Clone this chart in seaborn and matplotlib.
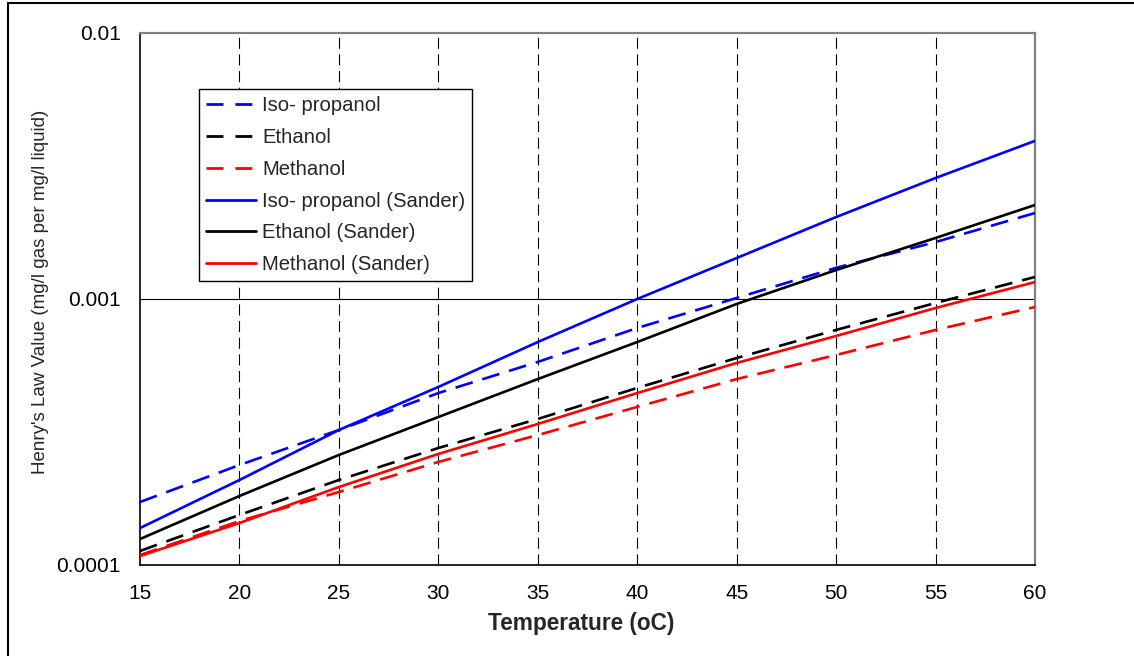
import numpy as np
import pandas as pd
import matplotlib
matplotlib.use("Agg")
import matplotlib.pyplot as plt
from matplotlib.lines import Line2D
from matplotlib.ticker import FixedLocator, NullFormatter, FixedFormatter, MultipleLocator
import seaborn as sns

temperature = [15, 20, 25, 30, 35, 40, 45, 50, 55, 60]

isopropanol = [1.725e-4, 2.376e-4, 3.218e-4, 4.43e-4, 5.80e-4, 7.78e-4, 1.009e-3, 1.31e-3, 1.637e-3, 2.105e-3]
ethanol = [1.129e-4, 1.542e-4, 2.087e-4, 2.753e-4, 3.54e-4, 4.63e-4, 6.00e-4, 7.65e-4, 9.66e-4, 1.21e-3]
methanol = [1.090e-4, 1.463e-4, 1.881e-4, 2.44e-4, 3.08e-4, 3.93e-4, 5.00e-4, 6.16e-4, 7.65e-4, 9.33e-4]
isopropanol_sander = [1.377e-4, 2.087e-4, 3.218e-4, 4.67e-4, 6.89e-4, 1.0e-3, 1.426e-3, 2.033e-3, 2.85e-3, 3.93e-3]
ethanol_sander = [1.252e-4, 1.817e-4, 2.592e-4, 3.60e-4, 5.00e-4, 6.89e-4, 9.58e-4, 1.285e-3, 1.696e-3, 2.256e-3]
methanol_sander = [1.081e-4, 1.438e-4, 1.964e-4, 2.615e-4, 3.39e-4, 4.43e-4, 5.75e-4, 7.26e-4, 9.25e-4, 1.158e-3]

series_names = ["Iso- propanol", "Ethanol", "Methanol",
                "Iso- propanol (Sander)", "Ethanol (Sander)", "Methanol (Sander)"]
series_values = [isopropanol, ethanol, methanol,
                 isopropanol_sander, ethanol_sander, methanol_sander]
series_colors = ["#0000FF", "#000000", "#FF0000", "#0000FF", "#000000", "#FF0000"]
series_dashed = [True, True, True, False, False, False]

x_ticks = [15, 20, 25, 30, 35, 40, 45, 50, 55, 60]
y_ticks = [0.0001, 0.001, 0.01]
y_tick_labels = ["0.0001", "0.001", "0.01"]

sns.set_style("white")
plt.rcParams["font.family"] = ["Liberation Sans", "DejaVu Sans"]

rows = []
for name, vals in zip(series_names, series_values):
    for t, v in zip(temperature, vals):
        rows.append({"Temperature": t, "Value": v, "Series": name})
df = pd.DataFrame(rows)

lw = 1.9
dash_pat = (6.8, 3.8)
palette = {n: c for n, c in zip(series_names, series_colors)}
dashes = {n: (dash_pat if d else "") for n, d in zip(series_names, series_dashed)}

fig = plt.figure(figsize=(11.34, 6.56), dpi=100)
ax = fig.add_axes([140 / 1134, 1 - 565 / 656, 895 / 1134, 532 / 656])

# grid lines first
for xv in x_ticks[1:-1]:
    ax.axvline(xv, color="black", lw=0.8, linestyle=(0, (10, 5)), zorder=1)
ax.axhline(0.001, color="black", lw=0.8, zorder=1)

sns.lineplot(data=df, x="Temperature", y="Value", hue="Series", style="Series",
             palette=palette, dashes=dashes, hue_order=series_names,
             style_order=series_names, linewidth=lw, ax=ax, legend=False,
             zorder=3)

ax.set_yscale("log")
ax.set_xlim(15, 60)
ax.set_ylim(1e-4, 1e-2)

ax.xaxis.set_major_locator(FixedLocator(x_ticks))
ax.xaxis.set_minor_locator(MultipleLocator(1))
ax.yaxis.set_major_locator(FixedLocator(y_ticks))
ax.yaxis.set_major_formatter(FixedFormatter(y_tick_labels))
minor_y = [m * 10.0 ** e for e in (-4, -3) for m in range(2, 10)]
ax.yaxis.set_minor_locator(FixedLocator(minor_y))
ax.yaxis.set_minor_formatter(NullFormatter())

ax.tick_params(axis="both", which="both", direction="in", colors="black")
ax.tick_params(axis="x", which="major", length=6, width=0.8, pad=14, labelsize=15)
ax.tick_params(axis="x", which="minor", length=5, width=0.8)
ax.tick_params(axis="y", which="major", length=6, width=0.8, pad=14, labelsize=15)
ax.tick_params(axis="y", which="minor", length=6, width=0.8)
ax.tick_params(top=False, right=False, which="both")

for side in ["left", "bottom"]:
    ax.spines[side].set_color("black")
    ax.spines[side].set_linewidth(1.2)
for side in ["top", "right"]:
    ax.spines[side].set_color("#808080")
    ax.spines[side].set_linewidth(1.6)

ax.set_xlabel("Temperature (oC)", fontsize=16.3, fontweight="bold")
ax.xaxis.set_label_coords((581 - 140) / 895, (565 - 612) / 532)
ax.set_ylabel("Henry's Law Value (mg/l gas per mg/l liquid)", fontsize=13.5)
ax.yaxis.set_label_coords((49 - 140) / 895, (565 - 292) / 532)

handles = [Line2D([0], [0], color=c, lw=2.0,
                  linestyle=(0, (6.1, 4.3)) if d else "-")
           for c, d in zip(series_colors, series_dashed)]
leg = ax.legend(handles, series_names, loc="upper left",
                bbox_to_anchor=(59 / 895, (565 - 89) / 532),
                frameon=True, fancybox=False, shadow=False, fontsize=14.6,
                handlelength=2.45, handletextpad=0.3, labelspacing=0.63,
                borderpad=0.36, borderaxespad=0.0)
leg.get_frame().set_edgecolor("black")
leg.get_frame().set_linewidth(1.0)
leg.get_frame().set_facecolor("white")
leg.get_frame().set_alpha(1.0)
leg.set_zorder(5)

# outer figure border (top and left visible)
fig.add_artist(Line2D([8 / 1134, 1.0], [1 - 2.5 / 656, 1 - 2.5 / 656],
                      color="black", lw=1.5, transform=fig.transFigure))
fig.add_artist(Line2D([8 / 1134, 8 / 1134], [0.0, 1 - 2.5 / 656],
                      color="black", lw=1.5, transform=fig.transFigure))

fig.savefig("out.png", dpi=100)
